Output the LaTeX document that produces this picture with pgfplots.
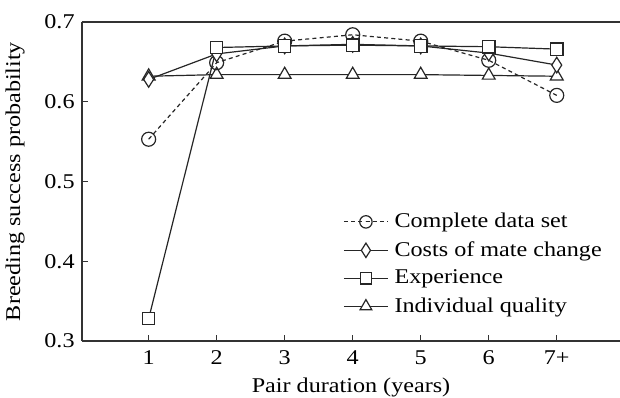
\documentclass[border=0pt]{standalone}
\usepackage{fontspec}
\setmainfont{Liberation Serif}[FakeStretch=1.15]
\usepackage{pgfplots}
\pgfplotsset{compat=1.18}
\begin{document}
\fontsize{10.5pt}{12pt}\selectfont
\begin{tikzpicture}
\begin{axis}[
  name=ax,
  at={(0,0)}, anchor=south west,
  scale only axis,
  width=269pt, height=159.5pt,
  xmin=0.02, xmax=7.93,
  ymin=0.3, ymax=0.7,
  axis lines=left,
  axis line style={-, line width=0.6pt, black!80},
  xtick={1,2,3,4,5,6,7},
  xticklabels={1,2,3,4,5,6,7+},
  ytick={0.3,0.4,0.5,0.6,0.7},
  yticklabel style={/pgf/number format/.cd, fixed, fixed zerofill, precision=1},
  /pgf/number format/assume math mode=true,
  tick align=inside,
  major tick length=3pt,
  tick style={line width=0.6pt, black!80},
  tick label style={font=\fontsize{10.5pt}{12pt}\selectfont},
  xticklabel style={yshift=-1pt},
  xlabel={Pair duration (years)},
  ylabel={Breeding success probability},
  label style={font=\fontsize{10.5pt}{12pt}\selectfont},
  xlabel style={at={(axis description cs:0.5,0)}, anchor=base, yshift=-25.5pt},
  ylabel style={at={(axis description cs:-0.1245,0.5)}, anchor=center},
  clip=false,
  legend style={at={(rel axis cs:0.485,0.415)}, anchor=north west, draw=none, fill=none,
    font=\fontsize{10.5pt}{12pt}\selectfont, inner sep=0pt, row sep=1.3pt,
    legend cell align=left,
    nodes={inner xsep=3pt}},
  legend image code/.code={\draw[mark repeat=2,mark phase=2,#1] plot coordinates {(0pt,0pt) (11pt,0pt) (22pt,0pt)};},
  every axis plot/.append style={line width=0.6pt, black!85},
]
% draw order
\addplot[mark=triangle*, mark size=3.7pt, mark options={fill=white, solid}, forget plot]
  coordinates {(1,0.632) (2,0.634) (3,0.634) (4,0.634) (5,0.634) (6,0.633) (7,0.632)};
\addplot[mark=o, mark size=3.5pt, mark options={fill=white, solid}, dash pattern=on 2pt off 1.6pt, forget plot]
  coordinates {(1,0.553) (2,0.649) (3,0.676) (4,0.684) (5,0.676) (6,0.652) (7,0.608)};
\addplot[mark=diamond*, mark size=3.9pt, mark options={fill=white, solid, xscale=0.85}, forget plot]
  coordinates {(1,0.628) (2,0.660) (3,0.670) (4,0.672) (5,0.670) (6,0.661) (7,0.646)};
\addplot[mark=square*, mark size=3.1pt, mark options={fill=white, solid}, forget plot]
  coordinates {(1,0.328) (2,0.668) (3,0.670) (4,0.671) (5,0.670) (6,0.669) (7,0.666)};
% legend
\addlegendimage{line width=0.6pt, black!85, dash pattern=on 2pt off 1.6pt, mark=o, mark size=3.1pt, mark options={fill=white, solid}}
\addlegendentry{Complete data set}
\addlegendimage{line width=0.6pt, black!85, mark=diamond*, mark size=3.6pt, mark options={fill=white, solid, xscale=0.85}}
\addlegendentry{Costs of mate change}
\addlegendimage{line width=0.6pt, black!85, mark=square*, mark size=2.8pt, mark options={fill=white, solid}}
\addlegendentry{Experience}
\addlegendimage{line width=0.6pt, black!85, mark=triangle*, mark size=3.4pt, mark options={fill=white, solid}}
\addlegendentry{Individual quality}
\draw[line width=0.6pt, black!80] (rel axis cs:0,1) -- (rel axis cs:1,1);
\end{axis}
\pgfresetboundingbox
\path (-41pt,-28pt) rectangle (269pt,170.5pt);
\end{tikzpicture}
\end{document}
